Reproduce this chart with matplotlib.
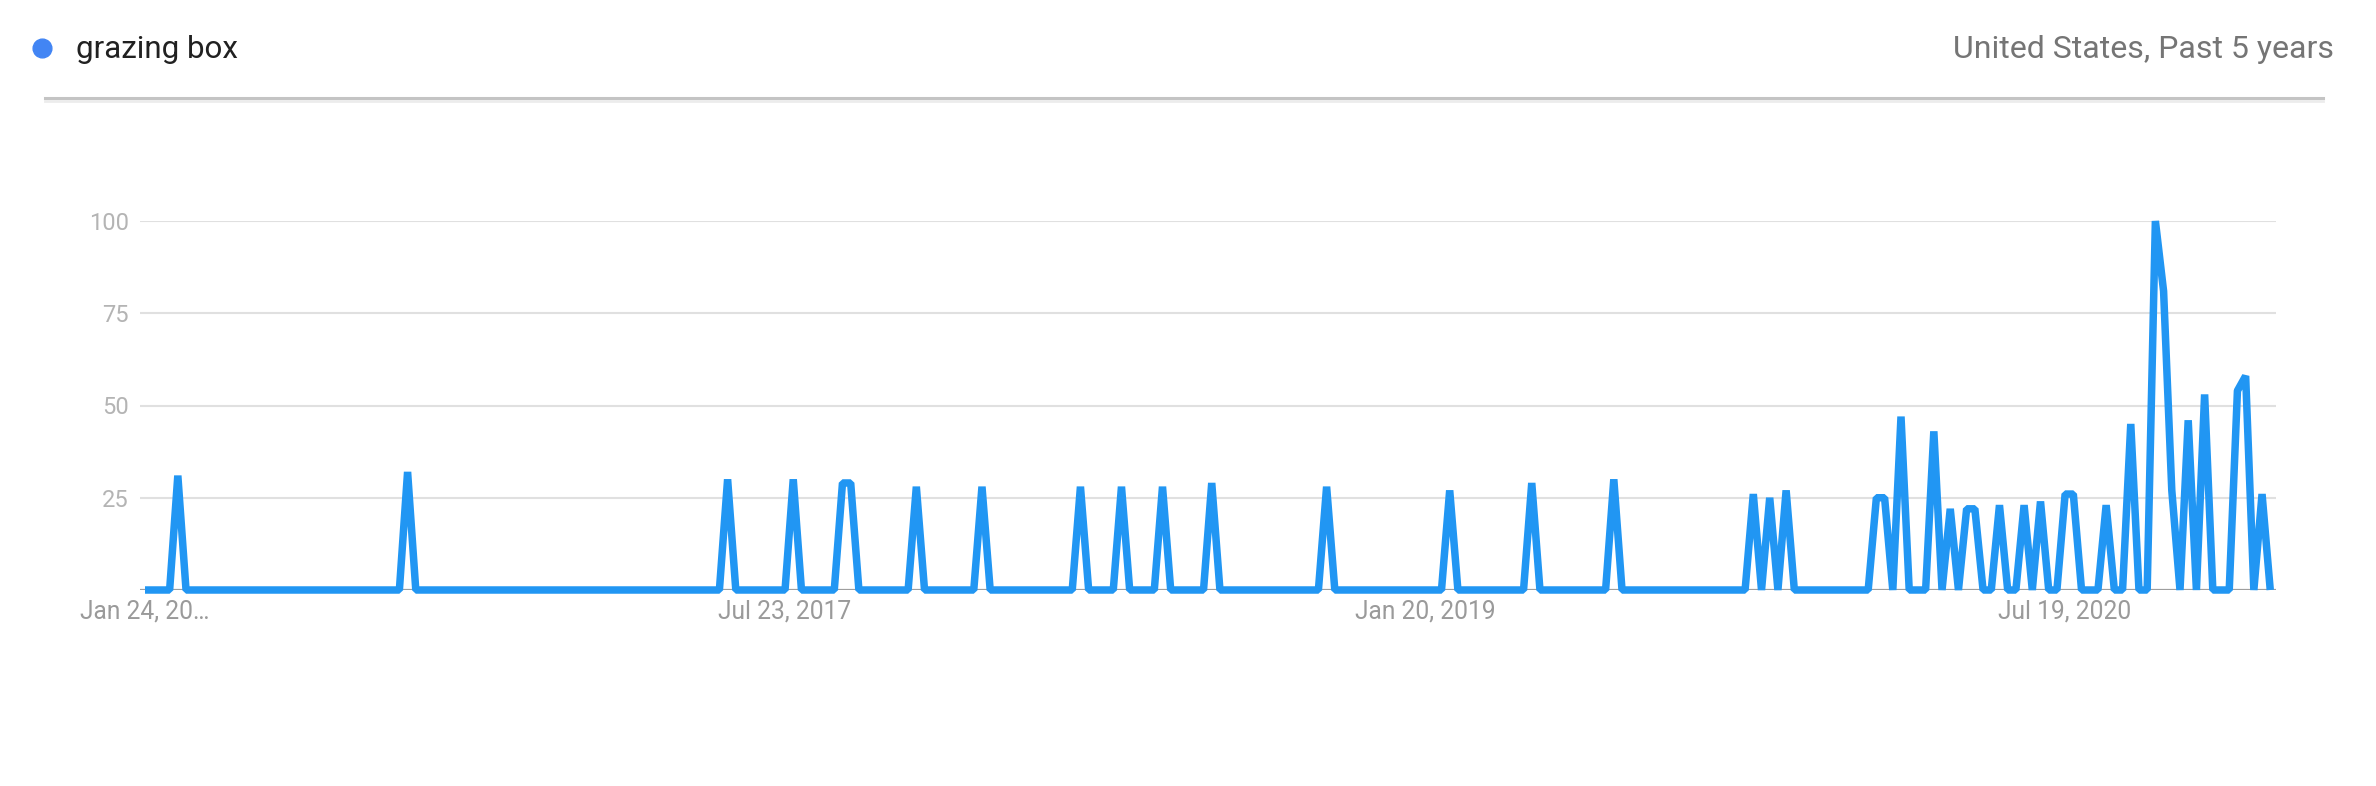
import numpy as np
import pandas as pd
import matplotlib
matplotlib.use("Agg")
from matplotlib import pyplot as plt
from matplotlib.lines import Line2D
import matplotlib.dates as mdates

# weekly interest, Jan 24 2016 .. Jan 10 2021 (rows of 13 weeks)
interest = [
    0, 0, 0, 0, 31, 0, 0, 0, 0, 0, 0, 0, 0,
    0, 0, 0, 0, 0, 0, 0, 0, 0, 0, 0, 0, 0,
    0, 0, 0, 0, 0, 0, 32, 0, 0, 0, 0, 0, 0,
    0, 0, 0, 0, 0, 0, 0, 0, 0, 0, 0, 0, 0,
    0, 0, 0, 0, 0, 0, 0, 0, 0, 0, 0, 0, 0,
    0, 0, 0, 0, 0, 0, 30, 0, 0, 0, 0, 0, 0,
    0, 30, 0, 0, 0, 0, 0, 29, 29, 0, 0, 0, 0,
    0, 0, 0, 28, 0, 0, 0, 0, 0, 0, 0, 28, 0,
    0, 0, 0, 0, 0, 0, 0, 0, 0, 0, 28, 0, 0,
    0, 0, 28, 0, 0, 0, 0, 28, 0, 0, 0, 0, 0,
    29, 0, 0, 0, 0, 0, 0, 0, 0, 0, 0, 0, 0,
    0, 28, 0, 0, 0, 0, 0, 0, 0, 0, 0, 0, 0,
    0, 0, 0, 27, 0, 0, 0, 0, 0, 0, 0, 0, 0,
    29, 0, 0, 0, 0, 0, 0, 0, 0, 0, 30, 0, 0,
    0, 0, 0, 0, 0, 0, 0, 0, 0, 0, 0, 0, 0,
    0, 26, 0, 25, 0, 27, 0, 0, 0, 0, 0, 0, 0,
    0, 0, 0, 25, 25, 0, 47, 0, 0, 0, 43, 0, 22,
    0, 22, 22, 0, 0, 23, 0, 0, 23, 0, 24, 0, 0,
    26, 26, 0, 0, 0, 23, 0, 0, 45, 0, 0, 100, 81,
    27, 0, 46, 0, 53, 0, 0, 0, 54, 58, 0, 26, 0,
]
weeks = pd.date_range("2016-01-24", periods=len(interest), freq="7D")

tick_dates = pd.to_datetime(["2016-01-24", "2017-07-23", "2019-01-20", "2020-07-19"])
tick_labels = ["Jan 24, 20\u2026", "Jul 23, 2017", "Jan 20, 2019", "Jul 19, 2020"]
y_ticks = [25, 50, 75, 100]

term = "grazing box"
scope = "United States, Past 5 years"

plt.rcParams["font.family"] = ["Roboto", "DejaVu Sans"]

W, H = 2376, 786
fig = plt.figure(figsize=(W / 100, H / 100), dpi=100)

# plot area in pixels: x 140..2276, y 221..590
ax = fig.add_axes([140 / W, (H - 590) / H, 2136 / W, 369 / H])
for s in ax.spines.values():
    s.set_visible(False)

for v in y_ticks:
    ax.axhline(v, color="#e0e0e0", lw=1.5, zorder=1)
ax.axhline(0, color="#9e9e9e", lw=1.6, zorder=1)

ax.plot(weeks, interest, color="#2196f3", lw=5.4, solid_joinstyle="bevel",
        solid_capstyle="butt", clip_on=False, zorder=3)

x0 = mdates.date2num(weeks[0]) - 0.61 * 7
x1 = mdates.date2num(weeks[-1]) + 0.7 * 7
ax.set_xlim(x0, x1)
ax.set_ylim(0, 100)

ax.set_yticks(y_ticks)
ax.set_yticklabels([str(v) for v in y_ticks])
ax.set_xticks(tick_dates)
ax.set_xticklabels(tick_labels)
ax.tick_params(axis="y", length=0, pad=8, labelsize=17, labelcolor="#b4b4b4")
ax.tick_params(axis="x", length=0, pad=7, labelsize=17.7, labelcolor="#9a9a9a")

# header
fig.add_artist(Line2D([42 / W], [(H - 48) / H], marker="o", markersize=13.5,
                      color="#4285f4", transform=fig.transFigure))
fig.text(76 / W, (H - 58) / H, term, fontsize=22.6, color="#212121",
         ha="left", va="baseline")
fig.text(2334 / W, (H - 58) / H, scope, fontsize=23, color="#757575",
         ha="right", va="baseline")

# separator with soft shadow
fig.add_artist(Line2D([45 / W, 2323 / W], [(H - 98) / H] * 2, color="#c4c4c4",
                      lw=2.2, transform=fig.transFigure))
fig.add_artist(Line2D([45 / W, 2323 / W], [(H - 101) / H] * 2, color="#ececec",
                      lw=2.0, transform=fig.transFigure))

fig.savefig("out.png", dpi=100)
